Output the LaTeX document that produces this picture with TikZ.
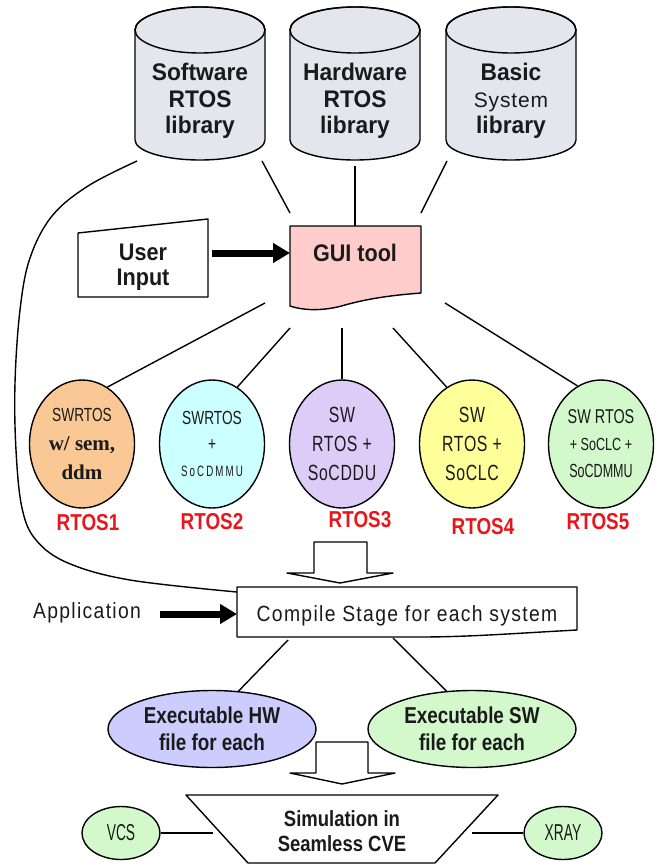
\documentclass[tikz,border=0pt]{standalone}
\usepackage{fontspec}
\setmainfont{Liberation Sans}
\newfontfamily\fA[FakeStretch=0.72]{Liberation Sans}
\newfontfamily\fAs[FakeStretch=0.72,LetterSpace=3]{Liberation Sans}
\newfontfamily\fB[FakeStretch=0.66]{Liberation Sans}
\newfontfamily\fC[FakeStretch=0.6]{Liberation Sans}
\newfontfamily\fD[FakeStretch=0.82]{Liberation Sans}
\newfontfamily\fE[FakeStretch=0.88,LetterSpace=6]{Liberation Sans}
\newfontfamily\fF[FakeStretch=0.9]{Liberation Sans}
\newfontfamily\fG[FakeStretch=0.95]{Liberation Sans}
\newfontfamily\fH[FakeStretch=0.84]{Liberation Sans}
\newfontfamily\socfont[FakeStretch=0.65,LetterSpace=14]{Liberation Sans}
\newfontfamily\sysfont[LetterSpace=4]{Liberation Sans}
\newfontfamily\tms{Liberation Serif}
\usetikzlibrary{shapes.geometric,arrows.meta}
\definecolor{cylc}{HTML}{E4E6EE}
\definecolor{guic}{HTML}{FFCCCC}
\definecolor{oc}{HTML}{F9C894}
\definecolor{cc}{HTML}{CCFFFF}
\definecolor{lc}{HTML}{DDCCF8}
\definecolor{yc}{HTML}{FFFF99}
\definecolor{gc}{HTML}{D2F8CC}
\definecolor{bc}{HTML}{CCCCFF}
\definecolor{labred}{HTML}{E8161C}
\definecolor{txt}{HTML}{1A1A1A}
\newcommand\mycyl[1]{%
  \filldraw[outl,fill=cylc] ({#1-65},30) -- ({#1-65},140)
    arc[start angle=180,end angle=360,x radius=65pt,y radius=20pt]
    -- ({#1+65},30)
    arc[start angle=0,end angle=180,x radius=65pt,y radius=23pt] -- cycle;
  \draw[outl] (#1,30) ellipse[x radius=65pt,y radius=23pt];
}
\begin{document}
\begin{tikzpicture}[x=1pt,y=-1pt,line join=round,
  outl/.style={draw=black,line width=1.4pt},
  conn/.style={line width=1.4pt},
  bigarrow/.style={line width=7pt,-{Triangle[length=17pt,width=19pt]}},
  rtosell/.style={ellipse,outl,minimum width=105pt,minimum height=128pt,inner sep=0pt,align=center,text=txt},
  lbl/.style={text=labred,font=\fD\bfseries\fontsize{23}{26}\selectfont},
  cyltext/.style={align=center,font=\fG\bfseries\fontsize{24}{26.5}\selectfont,text=txt},
  exell/.style={ellipse,outl,minimum width=208pt,minimum height=77pt,inner sep=0pt,align=center,
     font=\fD\bfseries\fontsize{23}{27}\selectfont,text=txt},
  smallell/.style={ellipse,outl,fill=gc,minimum width=78pt,minimum height=53pt,inner sep=0pt,
     font=\fC\fontsize{23}{26}\selectfont,text=txt}]
\useasboundingbox (0,0) rectangle (659,865);

% ---------- cylinders ----------
\mycyl{200}
\mycyl{355}
\mycyl{511}
\node[cyltext] (swlib) at (200,101) {Software\\RTOS\\library};
\node[cyltext] (hwlib) at (355,101) {Hardware\\RTOS\\library};
\node[cyltext] (bslib) at (511,101) {Basic\\{\mdseries\sysfont\fontsize{21}{26.5}\selectfont System}\\library};

% ---------- GUI tool ----------
\filldraw[outl,fill=guic] (290,226) -- (421,226) -- (421,293)
  .. controls (395,295) and (370,298) .. (345,305)
  .. controls (325,311) and (305,311) .. (290,306) -- cycle;
\node[font=\fF\bfseries\fontsize{24}{26}\selectfont,text=txt] (gui) at (355,253) {GUI tool};

% ---------- User input ----------
\filldraw[outl,fill=white] (78,233) -- (208,219) -- (208,297) -- (78,297) -- cycle;
\node[align=center,font=\fF\bfseries\fontsize{24}{25}\selectfont,text=txt] (ui) at (143,267) {User\\Input};

\coordinate (uiR) at (212,253);
\coordinate (guiL) at (290,253);
\draw[bigarrow] (uiR) -- (guiL);

% cylinders -> GUI
\coordinate (c1b) at (262,161);
\coordinate (c2b) at (355,166);
\coordinate (c3b) at (447,161);
\coordinate (g1) at (290,213);
\coordinate (g2) at (355,226);
\coordinate (g3) at (421,213);
\draw[conn] (c1b) -- (g1);
\draw[conn] (c2b) -- (g2);
\draw[conn] (c3b) -- (g3);

% ---------- RTOS ellipses ----------
\node[rtosell,fill=oc,font=\fontsize{21}{29}\selectfont] (e1) at (82,444)
  {{\fA\fontsize{19}{29}\selectfont SWRTOS}\\{\tms\bfseries w/ sem,}\\{\tms\bfseries ddm}};
\node[rtosell,fill=cc,font=\fA\fontsize{19}{26}\selectfont] (e2) at (212,444)
  {SWRTOS\\+\\{\socfont\fontsize{15}{27}\selectfont SoCDMMU}};
\node[rtosell,fill=lc,font=\fAs\fontsize{22}{29}\selectfont] (e3) at (342,444)
  {SW\\RTOS +\\SoCDDU};
\node[rtosell,fill=yc,font=\fAs\fontsize{22}{29}\selectfont] (e4) at (472,444)
  {SW\\RTOS +\\SoCLC};
\node[rtosell,fill=gc,font=\fA\fontsize{20}{27}\selectfont] (e5) at (601,444)
  {SW RTOS\\{\fontsize{17.5}{27}\selectfont + SoCLC +}\\{\fB\fontsize{19}{27}\selectfont SoCDMMU}};

\node[lbl] (r1) at (88,523) {RTOS1};
\node[lbl] (r2) at (212,522) {RTOS2};
\node[lbl] (r3) at (360,520) {RTOS3};
\node[lbl] (r4) at (483,527) {RTOS4};
\node[lbl] (r5) at (598,522) {RTOS5};

% GUI -> ellipses
\coordinate (s1) at (265,303);
\coordinate (s2) at (290,328);
\coordinate (s3) at (342,328);
\coordinate (s4) at (393,328);
\coordinate (s5) at (445,303);
\draw[conn] (s1) -- (e1.66);
\draw[conn] (s2) -- (e2.66);
\draw[conn] (s3) -- (e3.90);
\draw[conn] (s4) -- (e4.114);
\draw[conn] (s5) -- (e5.112);

% ---------- long curve from software library to compile stage ----------
\coordinate (curveS) at (137,161);
\coordinate (curveE) at (237,592);
\draw[conn] plot[smooth,tension=0.6] coordinates {(curveS) (88,186) (52,216) (30,258) (20,310) (15,383) (16,450) (22,508) (36,540) (68,563) (130,580) (curveE)};

% ---------- block arrow 1 ----------
\filldraw[outl,fill=white] (314,542) -- (367,542) -- (367,573) -- (393,573) -- (340,583) -- (287,573) -- (314,573) -- cycle;

% ---------- compile stage ----------
\filldraw[outl,fill=white] (237,587) -- (577,587) -- (577,630)
  .. controls (520,633) and (470,637) .. (420,637) -- (237,637) -- cycle;
\node[font=\fE\fontsize{22}{24}\selectfont,text=txt] (comp) at (407,616) {Compile Stage for each system};
\node[font=\fE\fontsize{22}{24}\selectfont,text=txt] (app) at (87,613) {Application};
\coordinate (appR) at (160,614);
\coordinate (compL) at (237,614);
\draw[bigarrow] (appR) -- (compL);

% ---------- executables ----------
\node[exell,fill=bc] (hw) at (212,729) {Executable HW\\file for each};
\node[exell,fill=gc] (sw) at (472,729) {Executable SW\\file for each};
\coordinate (cb1) at (288,640);
\coordinate (cb2) at (393,638);
\draw[conn] (cb1) -- (hw.55);
\draw[conn] (cb2) -- (sw.124);

% ---------- block arrow 2 ----------
\filldraw[outl,fill=white] (316,742) -- (368,742) -- (368,773) -- (395,773) -- (342,784) -- (290,773) -- (316,773) -- cycle;

% ---------- simulation ----------
\filldraw[outl,fill=white] (186,795) -- (498,795) -- (435,863) -- (248,863) -- cycle;
\node[align=center,font=\fH\bfseries\fontsize{22}{25}\selectfont,text=txt] (sim) at (342,831) {Simulation in\\Seamless CVE};
\node[smallell] (vcs) at (121,833) {VCS};
\node[smallell] (xray) at (563,833) {XRAY};
\coordinate (simL) at (213,833);
\coordinate (simR) at (472,833);
\draw[conn] (vcs) -- (simL);
\draw[conn] (simR) -- (xray);
\end{tikzpicture}
\end{document}
